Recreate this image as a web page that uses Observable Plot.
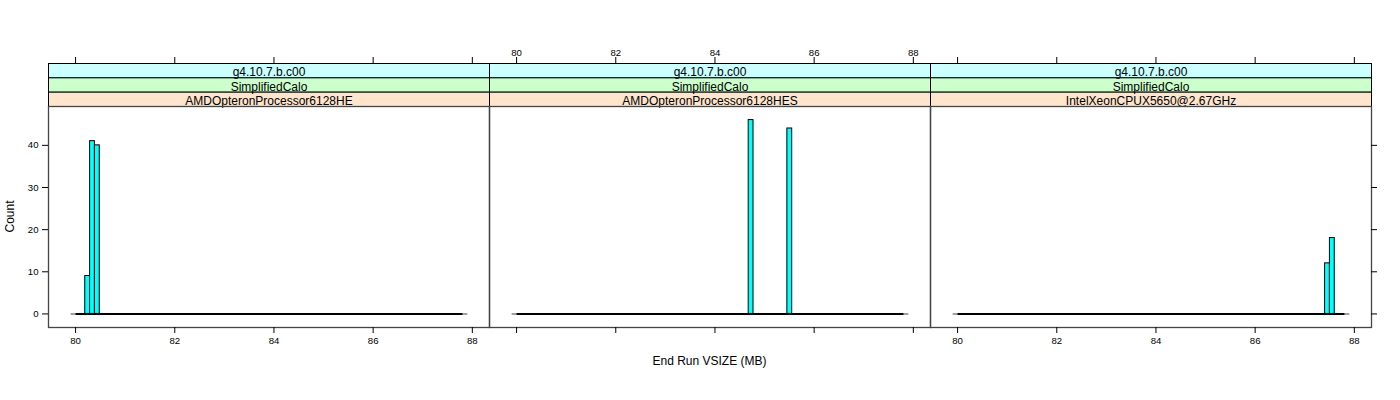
<!DOCTYPE html>
<html>
<head>
<meta charset="utf-8">
<script src="https://cdn.jsdelivr.net/npm/d3@7"></script>
<script src="https://cdn.jsdelivr.net/npm/@observablehq/plot@0.6"></script>
<style>
  html, body { margin: 0; padding: 0; background: #fff; }
  #chart svg { display: block; }
</style>
</head>
<body>
<div id="chart"></div>
<script>
// ---- data ----
const panels = ["AMDOpteronProcessor6128HE", "AMDOpteronProcessor6128HES", "IntelXeonCPUX5650@2.67GHz"];
const versions = ["g4.10.7.b.c00", "g4.10.7.b.c00", "g4.10.7.b.c00"];
const tests = ["SimplifiedCalo", "SimplifiedCalo", "SimplifiedCalo"];

// histogram bars (non-empty bins): panel index, bin lower edge, bin upper edge, count
const barPanel = [0, 0, 0, 1, 1, 2, 2];
const binLo   = [80.195, 80.2925, 80.39, 84.68, 85.46, 87.41, 87.5075];
const binHi   = [80.2925, 80.39, 80.4875, 84.7775, 85.5575, 87.5075, 87.605];
const counts  = [9, 41, 40, 46, 44, 12, 18];

// full range of histogram breaks (empty bins drawn as flat line)
const breaksRange = [80, 87.8];
const refRange = [79.9, 87.9];

const xTicks = [80, 82, 84, 86, 88];
const yTicks = [0, 10, 20, 30, 40];
const xDomain = [79.454, 88.346];
const yDomain = [-3.22, 49.22];

const xLabel = "End Run VSIZE (MB)";
const yLabel = "Count";

// ---- derived tables ----
const bars = barPanel.map((p, i) => ({panel: panels[p], x1: binLo[i], x2: binHi[i], n: counts[i]}));
const strips = panels.map((p, i) => ({panel: p, version: versions[i], test: tests[i]}));
const flat = panels.map(p => ({panel: p, a: breaksRange[0], b: breaksRange[1], y: 0}));
const ref = panels.map(p => ({panel: p, a: refRange[0], b: refRange[1], y: 0}));
const tickRows = (ps) => ps.flatMap(p => xTicks.map(v => ({panel: p, v})));
const bottomLabeled = tickRows([panels[0], panels[2]]);
const bottomPlain = tickRows([panels[1]]);
const topLabeled = tickRows([panels[1]]);
const topPlain = tickRows([panels[0], panels[2]]);
const yLeft = yTicks.map(v => ({panel: panels[0], v}));
const yRight = yTicks.map(v => ({panel: panels[2], v}));

const W = 1400, H = 400;
const mT = 106, mB = 73, mL = 48, mR = 29;
const panelH = H - mT - mB;           // 221
const panelW = (W - mL - mR) / panels.length; // 441
const sH = 43 / 3;                    // strip height
const font = "'Liberation Sans', Arial, Helvetica, sans-serif";

const stripFrame = (k, fill) => Plot.frame({
  fill, stroke: "#000", strokeWidth: 1,
  insetTop: -(sH * (3 - k)), insetBottom: panelH + sH * (2 - k)
});
const stripText = (k, field) => Plot.text(strips, {
  fx: "panel", text: field, frameAnchor: "top",
  dy: -(sH * (3 - k)) + sH / 2 - 3, fontSize: 12, fill: "#000"
});

const chart = Plot.plot({
  width: W, height: H,
  marginTop: mT, marginBottom: mB, marginLeft: mL, marginRight: mR,
  style: {fontFamily: font, background: "#fff", overflow: "visible"},
  fx: {domain: panels, padding: 0, axis: null},
  x: {domain: xDomain, axis: null},
  y: {domain: yDomain, axis: null},
  marks: [
    // strips
    stripFrame(0, "#ccffff"),
    stripFrame(1, "#ccffcc"),
    stripFrame(2, "#ffe5cc"),
    stripText(0, "version"),
    stripText(1, "test"),
    stripText(2, "panel"),
    // zero reference line and empty bins
    Plot.link(ref, {fx: "panel", x1: "a", x2: "b", y1: "y", y2: "y", stroke: "#a0a0a0", strokeWidth: 2}),
    Plot.link(flat, {fx: "panel", x1: "a", x2: "b", y1: "y", y2: "y", stroke: "#000", strokeWidth: 2}),
    // bars
    Plot.rectY(bars, {fx: "panel", x1: "x1", x2: "x2", y1: 0, y2: "n", fill: "#00ffff", stroke: "#000", strokeWidth: 1}),
    // panel border
    Plot.frame({stroke: "#444", strokeWidth: 1.3}),
    // bottom axis
    Plot.ruleX(bottomLabeled, {fx: "panel", x: "v", insetTop: panelH, insetBottom: -6, stroke: "#000"}),
    Plot.ruleX(bottomPlain, {fx: "panel", x: "v", insetTop: panelH, insetBottom: -6, stroke: "#000"}),
    Plot.text(bottomLabeled, {fx: "panel", x: "v", text: d => String(d.v), frameAnchor: "bottom", dy: 16, fontSize: 9.6, fill: "#000"}),
    // top axis
    Plot.ruleX(topPlain, {fx: "panel", x: "v", insetTop: -49, insetBottom: panelH + 43, stroke: "#000"}),
    Plot.ruleX(topLabeled, {fx: "panel", x: "v", insetTop: -49, insetBottom: panelH + 43, stroke: "#000"}),
    Plot.text(topLabeled, {fx: "panel", x: "v", text: d => String(d.v), frameAnchor: "top", dy: -57, fontSize: 9.6, fill: "#000"}),
    // y axes
    Plot.ruleY(yLeft, {fx: "panel", y: "v", insetLeft: -6, insetRight: panelW, stroke: "#000"}),
    Plot.text(yLeft, {fx: "panel", y: "v", text: d => String(d.v), frameAnchor: "left", dx: -10, textAnchor: "end", fontSize: 9.6, fill: "#000"}),
    Plot.ruleY(yRight, {fx: "panel", y: "v", insetLeft: panelW, insetRight: -6, stroke: "#000"})
  ]
});

const svg = d3.select(chart);
// axis titles
svg.append("text")
  .attr("x", mL + (W - mL - mR) / 2).attr("y", 362)
  .attr("text-anchor", "middle").attr("dominant-baseline", "middle")
  .attr("font-size", 12).attr("font-family", font).attr("fill", "#000")
  .text(xLabel);
svg.append("text")
  .attr("transform", `translate(11,${mT + panelH / 2}) rotate(-90)`)
  .attr("text-anchor", "middle").attr("dominant-baseline", "middle")
  .attr("font-size", 12).attr("font-family", font).attr("fill", "#000")
  .text(yLabel);

document.getElementById("chart").appendChild(chart);
</script>
</body>
</html>
